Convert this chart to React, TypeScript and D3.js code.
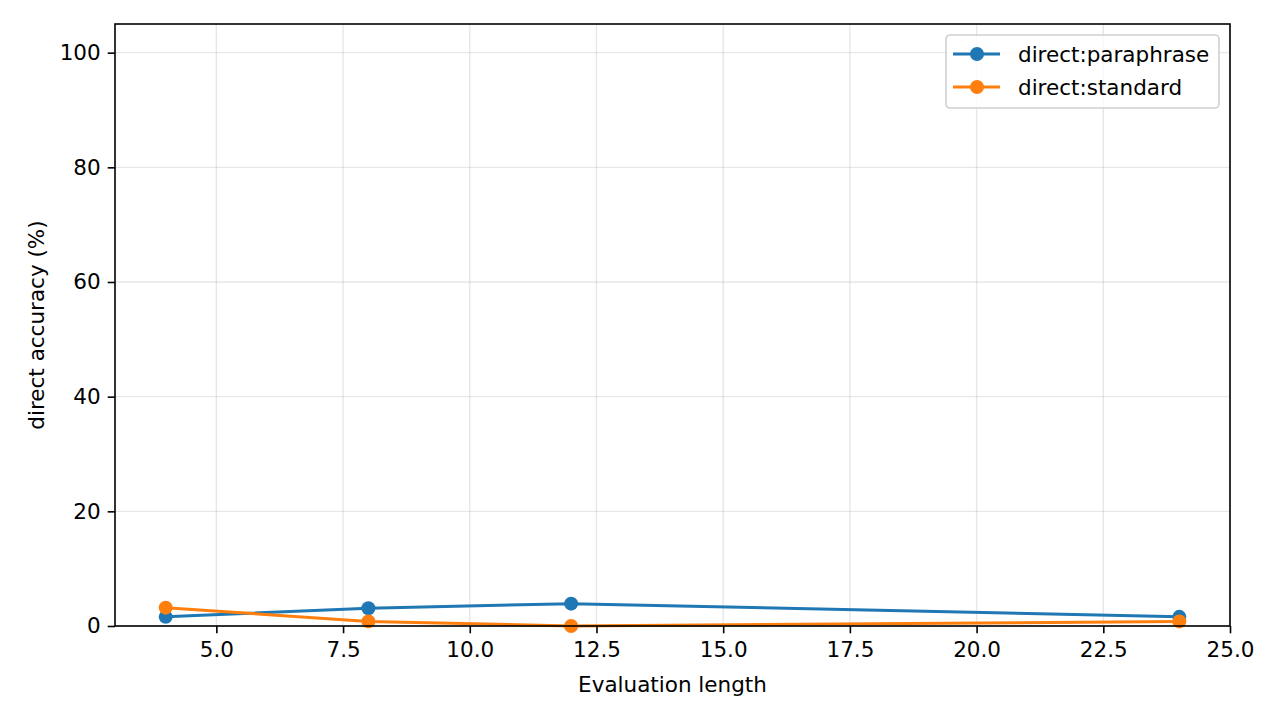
import { useEffect, useRef } from 'react'
import * as d3 from 'd3'

const evalLengths = [4, 8, 12, 24]
const paraphrase = [1.6, 3.1, 3.9, 1.6]
const standard = [3.2, 0.8, 0.0, 0.8]
const seriesNames = ['direct:paraphrase', 'direct:standard']
const seriesColors = ['#1f77b4', '#ff7f0e']
const xTicks = [5, 7.5, 10, 12.5, 15, 17.5, 20, 22.5, 25]
const yTicks = [0, 20, 40, 60, 80, 100]

const FONT = 'DejaVu Sans, sans-serif'
const FS = '21.5px'

export default function App() {
  const ref = useRef<SVGSVGElement>(null)

  useEffect(() => {
    if (!ref.current) return
    const width = 1280
    const height = 720
    const margin = { top: 24, right: 50, bottom: 94, left: 115 }
    const w = width - margin.left - margin.right
    const h = height - margin.top - margin.bottom

    const root = d3.select(ref.current)
    root.selectAll('*').remove()
    root.append('rect').attr('width', width).attr('height', height).attr('fill', '#fff')

    const svg = root.append('g').attr('transform', `translate(${margin.left}, ${margin.top})`)

    const x = d3.scaleLinear().domain([3, 25]).range([0, w])
    const y = d3.scaleLinear().domain([0, 105]).range([h, 0])

    // grid
    svg.append('g')
      .selectAll('line')
      .data(xTicks)
      .join('line')
      .attr('x1', (d) => x(d))
      .attr('x2', (d) => x(d))
      .attr('y1', 0)
      .attr('y2', h)
      .attr('stroke', '#b0b0b0')
      .attr('stroke-opacity', 0.3)
      .attr('stroke-width', 1.4)

    svg.append('g')
      .selectAll('line')
      .data(yTicks)
      .join('line')
      .attr('x1', 0)
      .attr('x2', w)
      .attr('y1', (d) => y(d))
      .attr('y2', (d) => y(d))
      .attr('stroke', '#b0b0b0')
      .attr('stroke-opacity', 0.3)
      .attr('stroke-width', 1.4)

    const line = d3.line<number>()
      .x((_, i) => x(evalLengths[i]))
      .y((d) => y(d))

    const allSeries = [paraphrase, standard]
    allSeries.forEach((vals, si) => {
      svg.append('path')
        .datum(vals)
        .attr('fill', 'none')
        .attr('stroke', seriesColors[si])
        .attr('stroke-width', 3)
        .attr('stroke-linejoin', 'round')
        .attr('d', line)
      svg.append('g')
        .selectAll('circle')
        .data(vals)
        .join('circle')
        .attr('cx', (_, i) => x(evalLengths[i]))
        .attr('cy', (d) => y(d))
        .attr('r', 7)
        .attr('fill', seriesColors[si])
    })

    // axes
    const xAxis = svg.append('g')
      .attr('transform', `translate(0, ${h})`)
      .call(d3.axisBottom(x).tickValues(xTicks).tickFormat(d3.format('.1f')).tickSizeOuter(0).tickSize(7.3).tickPadding(8))
    const yAxis = svg.append('g')
      .call(d3.axisLeft(y).tickValues(yTicks).tickFormat(d3.format('d')).tickSizeOuter(0).tickSize(7.3).tickPadding(7))

    for (const ax of [xAxis, yAxis]) {
      ax.select('.domain').remove()
      ax.selectAll('.tick line').attr('stroke', '#000').attr('stroke-width', 1.6)
      ax.selectAll('text')
        .attr('fill', '#000')
        .style('font-family', FONT)
        .style('font-size', FS)
    }

    // frame
    svg.append('rect')
      .attr('width', w)
      .attr('height', h)
      .attr('fill', 'none')
      .attr('stroke', '#000')
      .attr('stroke-width', 1.6)

    svg.append('text')
      .attr('x', w / 2)
      .attr('y', h + 66)
      .attr('text-anchor', 'middle')
      .style('font-family', FONT)
      .style('font-size', FS)
      .text('Evaluation length')

    svg.append('text')
      .attr('transform', 'rotate(-90)')
      .attr('x', -h / 2)
      .attr('y', -71)
      .attr('text-anchor', 'middle')
      .style('font-family', FONT)
      .style('font-size', FS)
      .text('direct accuracy (%)')

    // legend
    const lg = svg.append('g').attr('transform', `translate(${946 - margin.left}, ${35 - margin.top})`)
    lg.append('rect')
      .attr('width', 273)
      .attr('height', 73)
      .attr('rx', 4)
      .attr('fill', '#fff')
      .attr('fill-opacity', 0.8)
      .attr('stroke', '#d0d0d0')
      .attr('stroke-width', 1.6)
    seriesNames.forEach((name, i) => {
      const ly = 19 + i * 33
      lg.append('line')
        .attr('x1', 7)
        .attr('x2', 54)
        .attr('y1', ly)
        .attr('y2', ly)
        .attr('stroke', seriesColors[i])
        .attr('stroke-width', 3)
      lg.append('circle')
        .attr('cx', 31)
        .attr('cy', ly)
        .attr('r', 7)
        .attr('fill', seriesColors[i])
      lg.append('text')
        .attr('x', 72)
        .attr('y', ly)
        .attr('dy', '0.35em')
        .style('font-family', FONT)
        .style('font-size', FS)
        .text(name)
    })
  }, [])

  return (
    <div style={{ position: 'absolute', left: 0, top: 0, width: 1280, height: 720 }}>
      <svg ref={ref} width={1280} height={720} style={{ display: 'block' }} />
    </div>
  )
}
